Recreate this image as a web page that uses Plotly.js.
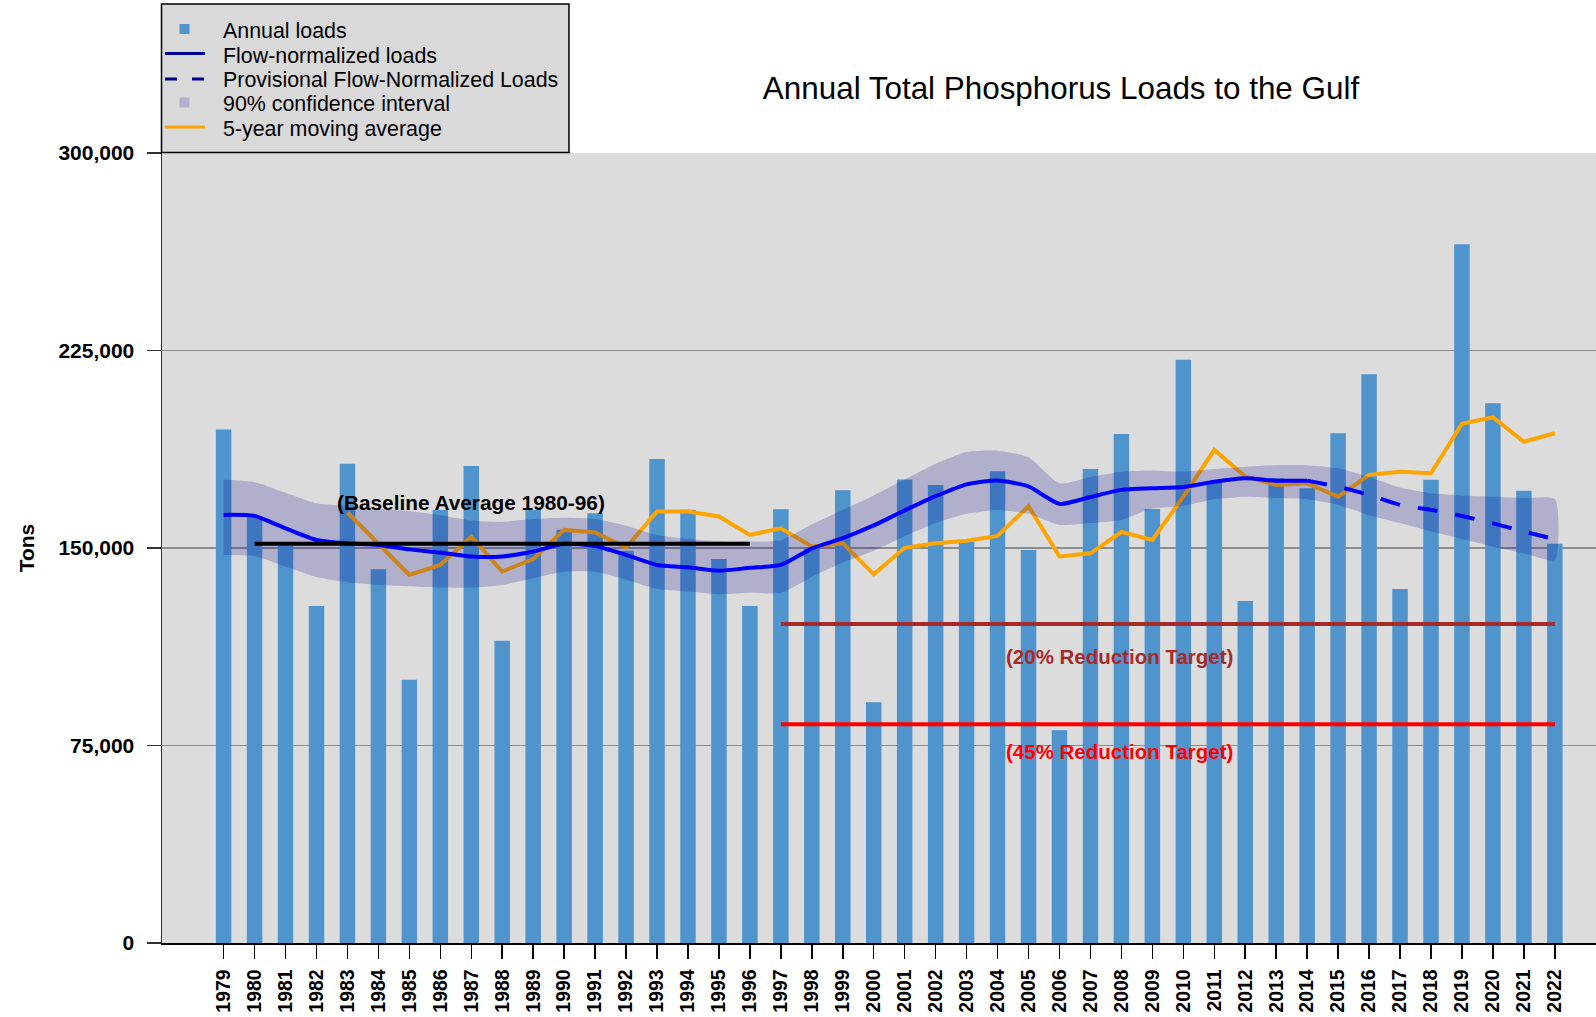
<!DOCTYPE html>
<html>
<head>
<meta charset="utf-8">
<script src="https://cdn.plot.ly/plotly-3.0.1.min.js"></script>
<style>
  html, body { margin: 0; padding: 0; background: #ffffff; }
  #chart { width: 1596px; height: 1017px; }
</style>
</head>
<body>
<div id="chart"></div>
<script>
// ---------------- DATA ----------------
const years = [1979,1980,1981,1982,1983,1984,1985,1986,1987,1988,1989,1990,1991,1992,1993,1994,1995,1996,1997,1998,1999,2000,
               2001,2002,2003,2004,2005,2006,2007,2008,2009,2010,2011,2012,2013,2014,2015,2016,2017,2018,2019,2020,2021,2022];

const annualLoads = [195000,162000,151000,128000,182000,142000,100000,164500,181200,114800,164500,157000,163200,149000,183800,164600,145800,128000,164700,150000,172000,91400,
                     176000,174000,152300,179200,149300,80800,180000,193300,164800,221500,175500,129900,176500,172700,193600,216000,134500,175900,265400,205000,171800,151600];

const flowNormYears = [1979,1980,1981,1982,1983,1984,1985,1986,1987,1988,1989,1990,1991,1992,1993,1994,1995,1996,1997,1998,1999,2000,
                       2001,2002,2003,2004,2005,2006,2007,2008,2009,2010,2011,2012,2013,2014];
const flowNormalized = [162600,162200,157500,153100,151800,151200,149500,148300,146800,146800,148700,151600,150800,147400,143600,142700,141400,142500,143600,149800,153800,158600,
                        164300,169700,174200,175700,173400,166800,169400,172100,172700,173200,175200,176500,175600,175600];

const provisionalYears = [2014,2015,2016,2017,2018,2019,2020,2021,2022];
const provisionalFN = [175600,173300,170200,166400,164500,162200,159400,156300,153400];

const ciUpper = [175900,175000,171000,167000,166000,165000,164000,162500,160500,160000,161000,161500,161000,158500,155000,153500,152500,152500,153000,159000,164500,170000,
                 176000,182000,186500,187000,184500,174600,177000,179000,179500,179000,180000,180900,181500,181500,180300,177000,173000,170800,170000,169500,169000,168600];
const ciLower = [147400,147000,143000,139000,137000,136000,135500,135000,135000,136000,138500,141000,141000,138000,134500,133500,132500,133000,133000,139000,144500,149000,
                 154500,159500,163000,164500,163000,158800,159500,160700,165000,166000,168500,169500,169000,168500,166400,162500,159500,156300,153500,150500,148000,145500];

const movAvgYears = [1983,1984,1985,1986,1987,1988,1989,1990,1991,1992,1993,1994,1995,1996,1997,1998,1999,2000,2001,2002,
                     2003,2004,2005,2006,2007,2008,2009,2010,2011,2012,2013,2014,2015,2016,2017,2018,2019,2020,2021,2022];
const movingAverage = [163500,151800,139800,143600,154400,141100,145800,156900,155900,150200,163900,163900,162000,155000,157500,150600,151800,140000,150100,151800,
                       152800,154600,165900,146800,148000,156100,153100,169500,187300,177200,174000,174600,169500,177800,179000,178400,197200,199700,190400,193600];

const baselineYears = [1980, 1996];
const baselineValue = 151600;
const targetYears = [1997, 2022];
const target20 = 121200;
const target45 = 83100;

const yTickVals = [0, 75000, 150000, 225000, 300000];
const yTickText = ["0", "75,000", "150,000", "225,000", "300,000"];

const legendLabels = ["Annual loads", "Flow-normalized loads", "Provisional Flow-Normalized Loads",
                      "90% confidence interval", "5-year moving average"];

// ---------------- STYLE ----------------
const FONT = "Liberation Sans, Arial, Helvetica, sans-serif";
const barColor = "rgb(79,148,205)";
const bandColor = "rgba(0,0,139,0.2)";
const fnColor = "#0000ff";
const legendBlue = "#00008b";
const orange = "#ffa500";

// plot area in pixels (layout only)
const PL = 162, PR = 1596, PT = 153, PB = 943;
const px = v => (v - PL) / (PR - PL);
const py = v => (PB - v) / (PB - PT);

const bandX = years.concat(years.slice().reverse());
const bandY = ciUpper.concat(ciLower.slice().reverse());

const traces = [
  { type: "bar", x: years, y: annualLoads, width: 0.5, marker: { color: barColor, line: { width: 0 } },
    showlegend: false },
  { type: "scatter", mode: "lines", x: movAvgYears, y: movingAverage, line: { color: orange, width: 4 },
    showlegend: false },
  { type: "scatter", mode: "lines", x: bandX, y: bandY, fill: "toself", fillcolor: bandColor,
    line: { width: 0, shape: "spline", smoothing: 0.6 }, showlegend: false },
  { type: "scatter", mode: "lines", x: flowNormYears, y: flowNormalized,
    line: { color: fnColor, width: 4, shape: "spline", smoothing: 0.6 }, showlegend: false },
  { type: "scatter", mode: "lines", x: provisionalYears, y: provisionalFN,
    line: { color: fnColor, width: 4, dash: "20px,18px", shape: "spline", smoothing: 0.6 }, showlegend: false },
  { type: "scatter", mode: "lines", x: baselineYears, y: [baselineValue, baselineValue],
    line: { color: "#000000", width: 4 }, showlegend: false },
  { type: "scatter", mode: "lines", x: targetYears, y: [target20, target20],
    line: { color: "#a52a2a", width: 4 }, showlegend: false },
  { type: "scatter", mode: "lines", x: targetYears, y: [target45, target45],
    line: { color: "#ff0000", width: 4 }, showlegend: false }
];

// ---- hand-built legend (box, keys, labels) ----
const rowY = [31, 55.5, 80, 104.5, 129];
const keyX0 = 165, keyX1 = 205, sqC = 184.5, sqH = 5;
const shapes = [
  { type: "rect", xref: "paper", yref: "paper", x0: px(161.5), x1: px(569), y0: py(152.5), y1: py(4),
    fillcolor: "#d9d9d9", line: { color: "#000000", width: 1.5 }, layer: "above" },
  { type: "rect", xref: "paper", yref: "paper", x0: px(sqC - sqH), x1: px(sqC + sqH), y0: py(rowY[0] - 2 + sqH), y1: py(rowY[0] - 2 - sqH),
    fillcolor: barColor, line: { width: 0 } },
  { type: "line", xref: "paper", yref: "paper", x0: px(keyX0), x1: px(keyX1), y0: py(rowY[1] - 2), y1: py(rowY[1] - 2),
    line: { color: legendBlue, width: 3 } },
  { type: "line", xref: "paper", yref: "paper", x0: px(keyX0), x1: px(keyX1), y0: py(rowY[2] - 1), y1: py(rowY[2] - 1),
    line: { color: legendBlue, width: 3, dash: "12px,15px" } },
  { type: "rect", xref: "paper", yref: "paper", x0: px(sqC - sqH), x1: px(sqC + sqH), y0: py(rowY[3] - 2 + sqH), y1: py(rowY[3] - 2 - sqH),
    fillcolor: "rgb(176,176,204)", line: { width: 0 } },
  { type: "line", xref: "paper", yref: "paper", x0: px(keyX0), x1: px(keyX1), y0: py(rowY[4] - 2), y1: py(rowY[4] - 2),
    line: { color: orange, width: 3 } }
];

const annotations = [
  { xref: "x", yref: "y", x: 1987.0, y: 167200, text: "(Baseline Average 1980-96)", showarrow: false,
    font: { family: FONT, size: 20.8, weight: "bold", color: "#000000" }, xanchor: "center", yanchor: "middle" },
  { xref: "x", yref: "y", x: 2007.93, y: 108800, text: "(20% Reduction Target)", showarrow: false,
    font: { family: FONT, size: 20.5, weight: "bold", color: "#a52a2a" }, xanchor: "center", yanchor: "middle" },
  { xref: "x", yref: "y", x: 2007.93, y: 72700, text: "(45% Reduction Target)", showarrow: false,
    font: { family: FONT, size: 20.5, weight: "bold", color: "#ff0000" }, xanchor: "center", yanchor: "middle" }
];
legendLabels.forEach((t, i) => {
  annotations.push({ xref: "paper", yref: "paper", x: px(221), y: py(rowY[i]), text: t, showarrow: false,
    xanchor: "left", yanchor: "middle", font: { family: FONT, size: 21.4, color: "#000000" } });
});

const layout = {
  width: 1596,
  height: 1017,
  margin: { l: PL, r: 1596 - PR, t: PT, b: 1017 - PB, pad: 0, autoexpand: false },
  paper_bgcolor: "#ffffff",
  plot_bgcolor: "#dcdcdc",
  font: { family: FONT, color: "#000000", size: 20 },
  title: {
    text: "Annual Total Phosphorus Loads to the Gulf",
    font: { family: FONT, size: 31.4, color: "#000000" },
    xref: "container", yref: "container",
    x: 1061 / 1596, xanchor: "center",
    y: 1 - 88 / 1017, yanchor: "middle"
  },
  showlegend: false,
  xaxis: {
    range: [1977.01, 2023.33],
    tickmode: "array",
    tickvals: years,
    ticktext: years.map(String),
    tickangle: -90,
    tickfont: { family: FONT, size: 19.5, weight: "bold", color: "#000000" },
    ticks: "outside", ticklen: 14, tickwidth: 1.5, tickcolor: "#000000",
    ticklabelstandoff: 3,
    showline: true, linecolor: "#000000", linewidth: 1.5,
    showgrid: false, zeroline: false, fixedrange: true
  },
  yaxis: {
    range: [0, 300050],
    tickmode: "array",
    tickvals: yTickVals,
    ticktext: yTickText,
    tickfont: { family: FONT, size: 21, weight: "bold", color: "#000000" },
    ticks: "outside", ticklen: 14, tickwidth: 1.5, tickcolor: "#333333",
    ticklabelstandoff: 8,
    showline: true, linecolor: "#333333", linewidth: 1.5,
    showgrid: true, gridcolor: "#8c8c8c", gridwidth: 1.2,
    zeroline: false, fixedrange: true,
    title: { text: "Tons", font: { family: FONT, size: 21, weight: "bold", color: "#000000" }, standoff: 18 }
  },
  shapes: shapes,
  annotations: annotations
};

Plotly.newPlot("chart", traces, layout, { displayModeBar: false, staticPlot: true });
</script>
</body>
</html>
